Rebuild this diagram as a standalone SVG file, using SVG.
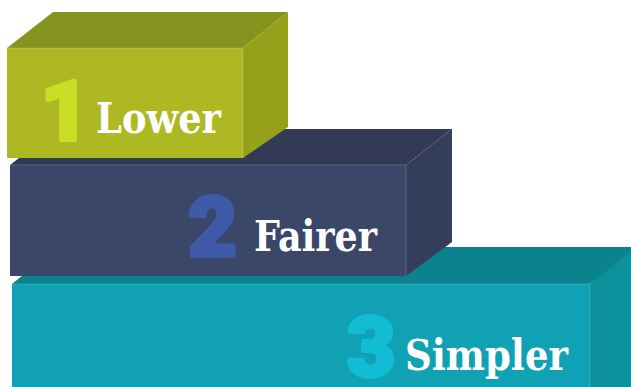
<svg xmlns="http://www.w3.org/2000/svg" width="631" height="387" viewBox="0 0 631 387">
<style>
.lbl{font-family:"DejaVu Serif","Liberation Serif",serif;font-weight:bold;font-size:42px;fill:#ffffff}
.num{font-family:Roboto,"Liberation Sans",sans-serif;font-weight:900;font-size:84px;text-anchor:middle;stroke-width:4;stroke-linejoin:round}
.edge{fill:none;stroke:#ffffff;stroke-opacity:0.18;stroke-width:1}
</style>
<rect width="631" height="387" fill="#ffffff"/>
<g id="step3">
<polygon points="12,284 57,247 640,247 590,284" fill="#0a838f"/>
<polygon points="590,284 636,247 636,387 590,387" fill="#0b909c"/>
<rect x="12" y="284" width="578" height="110" fill="#10a1b5"/>
<polyline class="edge" points="12,284 590,284 590,387"/>
<text class="num" x="371" y="376" fill="#12bcd4" stroke="#12bcd4">3</text>
<text class="lbl" x="405" y="370" textLength="163" lengthAdjust="spacingAndGlyphs">Simpler</text>
</g>
<g id="step2">
<polygon points="10,165 56,129 452,129 406,165" fill="#323a55"/>
<polygon points="406,165 452,129 452,242 406,276" fill="#343e5c"/>
<rect x="10" y="165" width="396" height="111" fill="#3a4769"/>
<polyline class="edge" points="10,165 406,165 406,276"/>
<text class="num" x="212.5" y="256" fill="#3f5aa8" stroke="#3f5aa8">2</text>
<text class="lbl" x="254" y="251" textLength="123" lengthAdjust="spacingAndGlyphs">Fairer</text>
</g>
<g id="step1">
<polygon points="7,48 53,12 288,12 243,48" fill="#84941e"/>
<polygon points="243,48 288,12 288,127 243,158" fill="#96a01a"/>
<rect x="7" y="48" width="236" height="110" fill="#aeb823"/>
<polyline class="edge" points="7,48 243,48 243,158"/>
<text class="num" x="65" y="140" fill="#cadd26" stroke="#cadd26">1</text>
<text class="lbl" x="96" y="133" textLength="125" lengthAdjust="spacingAndGlyphs">Lower</text>
</g>
</svg>
